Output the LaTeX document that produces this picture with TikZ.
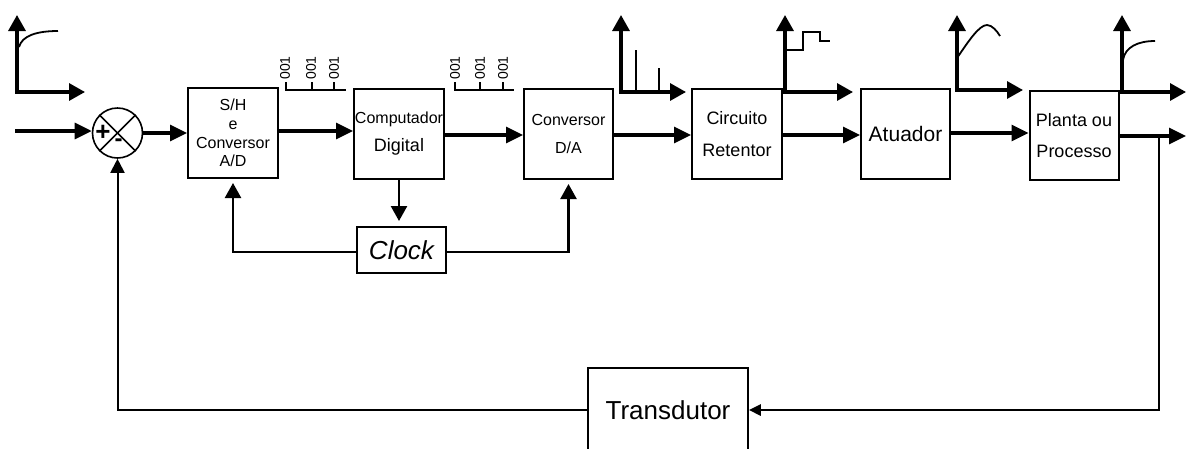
\documentclass[tikz,border=0pt]{standalone}
\usepackage{fontspec}
\setmainfont{Liberation Sans}
\usetikzlibrary{arrows.meta}
\begin{document}
\begin{tikzpicture}[x=1pt,y=-1pt,
  box/.style={draw,line width=2pt,minimum width=90pt,minimum height=90pt,inner sep=0pt,align=center},
  arr/.style={line width=3.2pt,-{Triangle[length=17pt,width=16pt]}},
  carr/.style={line width=2.4pt,-{Triangle[length=15pt,width=16pt]}},
  fbr/.style={line width=2.6pt,-{Triangle[length=12pt,width=11pt]}},
  fbl/.style={line width=2pt,-{Triangle[length=14pt,width=14pt]}},
  axis/.style={line width=3.2pt,line join=miter,{Triangle[length=16pt,width=17pt]}-{Triangle[length=16pt,width=17pt]}},
  sig/.style={line width=1.8pt},
  bit/.style={rotate=90,inner sep=0pt,font=\fontsize{14}{14}\selectfont},
  brk/.style={line width=2pt}]
\useasboundingbox (0,0) rectangle (1186,448);

% blocks
\node[box,font=\fontsize{16}{18.7}\selectfont] (sh) at (233,133) {S/H\\e\\Conversor\\A/D};
\node[box,font=\fontsize{16}{28}\selectfont] (comp) at (399,134) {Computador\\{\fontsize{18}{28}\selectfont Digital}};
\node[box,minimum width=89pt,font=\fontsize{16}{28}\selectfont] (da) at (568.5,134) {Conversor\\D/A};
\node[box,font=\fontsize{18}{32}\selectfont] (cr) at (737,134) {Circuito\\Retentor};
\node[box,minimum width=89pt,font=\fontsize{21}{21}\selectfont] (at) at (905.5,134) {Atuador};
\node[box,minimum width=89pt,minimum height=89pt,font=\fontsize{18}{31}\selectfont] (pl) at (1074,135.5) {Planta ou\\Processo};
\node[box,minimum width=89pt,minimum height=46pt,font=\fontsize{26}{26}\selectfont\itshape] (clock) at (401.5,250) {Clock};
\node[draw,line width=1.6pt,minimum width=160pt,minimum height=84pt,inner sep=0pt,font=\fontsize{26}{26}\selectfont] (tr) at (668,410) {Transdutor};

% summing junction
\node[draw,circle,line width=1.6pt,minimum size=50pt,inner sep=0pt] (sum) at (117.5,133) {};
\draw[line width=1.6pt] (sum.north west) -- (sum.south east);
\draw[line width=1.6pt] (sum.north east) -- (sum.south west);
\node[font=\fontsize{26}{26}\selectfont\bfseries,inner sep=0pt] (plus) at (103,133) {+};
\node[font=\fontsize{24}{24}\selectfont\bfseries,inner sep=0pt] (minus) at (118.5,143) {-};

% forward path
\coordinate (in) at (15,131);
\coordinate (out) at (1186,136);
\coordinate (br) at (1159,136);
\draw[arr] (in) -- (in -| sum.west);
\draw[arr] (sum.east) -- (sum.east -| sh.west);
\draw[arr] ([yshift=2pt]sh.east) -- ([yshift=2pt]sh.east -| comp.west);
\draw[arr] ([yshift=-1pt]comp.east) -- ([yshift=-1pt]comp.east -| da.west);
\draw[arr] ([yshift=-1pt]da.east) -- ([yshift=-1pt]da.east -| cr.west);
\draw[arr] ([yshift=-1pt]cr.east) -- ([yshift=-1pt]cr.east -| at.west);
\draw[arr] ([yshift=1pt]at.east) -- ([yshift=1pt]at.east -| pl.west);
\draw[arr] (pl.east |- out) -- (out);

% feedback
\draw[fbr] (br) |- (tr.east);
\draw[fbl] (tr.west) -| (sum.south);

% clock
\draw[carr,shorten >=5pt] (comp.south) -- (comp.south |- clock.north);
\draw[carr,shorten >=4pt] ([yshift=-2pt]clock.west) -| (sh.south);
\draw[carr,shorten >=4pt] ([yshift=-2pt]clock.east) -| (da.south);

% bit words
\node[bit] (b1) at (285,68) {001};
\node[bit] (b2) at (311,68) {001};
\node[bit] (b3) at (334,68) {001};
\draw[brk] (286,82) -- (286,90) -- (346,90);
\draw[brk] (312,82) -- (312,90);
\draw[brk] (334,82) -- (334,90);
\node[bit] (b4) at (455,68) {001};
\node[bit] (b5) at (480,68) {001};
\node[bit] (b6) at (503,68) {001};
\draw[brk] (455,82) -- (455,90) -- (514,90);
\draw[brk] (480,82) -- (480,90);
\draw[brk] (503,82) -- (503,90);

% signal sketches
\draw[axis] (17,15) -- (17,92) -- (85,92);
\draw[sig] (19,47) .. controls (22,36) and (36,31) .. (58,31);

\draw[axis] (621,15) -- (621,92) -- (686,92);
\draw[brk] (636,92) -- (636,50);
\draw[brk] (659,92) -- (659,68);

\draw[axis] (785,15) -- (785,92) -- (853,92);
\draw[sig] (785,50) -- (803,50) -- (803,32) -- (820,32) -- (820,41) -- (830,41);

\draw[axis] (957,15) -- (957,90) -- (1023,90);
\draw[sig] (957,58) .. controls (968,42) and (979,25) .. (987,25) .. controls (992,25) and (997,31) .. (1000,36);

\draw[axis] (1122,15) -- (1122,92) -- (1186,92);
\draw[sig] (1123,60) .. controls (1125,47) and (1138,41) .. (1155,41);
\end{tikzpicture}
\end{document}
